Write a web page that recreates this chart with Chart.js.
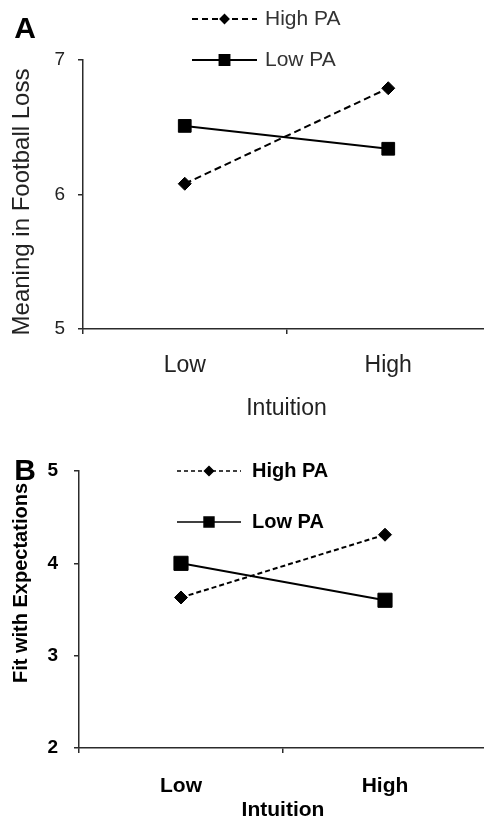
<!DOCTYPE html>
<html>
<head>
<meta charset="utf-8">
<script src="https://cdn.jsdelivr.net/npm/chart.js@4"></script>
<style>
    html, body { margin: 0; padding: 0; background: #fff; overflow: hidden; }
    body { width: 484px; height: 821px; position: relative; }
    canvas { position: absolute; left: 0; }
    #chart-a { top: 0; }
    #chart-b { top: 430px; }
</style>
</head>
<body>
<canvas id="chart-a" width="500" height="430"></canvas>
<canvas id="chart-b" width="498" height="391"></canvas>
<script>
const intuitionLevels = ['Low', 'High'];
const seriesNames = ['High PA', 'Low PA'];

// panel A: meaning in football loss
const meaningHighPA = [6.08, 6.79];
const meaningLowPA = [6.51, 6.34];
const meaningTicks = [5, 6, 7];

// panel B: fit with expectations
const fitHighPA = [3.63, 4.31];
const fitLowPA = [4.00, 3.60];
const fitTicks = [2, 3, 4, 5];

const FONT = '"Liberation Sans", Arial, sans-serif';

// panel letter, y title and the little legend drawn inside the plot
const panelDecor = {
    id: 'panelDecor',
    afterDraw(chart, args, opts) {
        const { ctx } = chart;
        ctx.save();
        ctx.fillStyle = '#000';
        ctx.font = `bold 30px ${FONT}`;
        ctx.textAlign = 'center';
        ctx.textBaseline = 'middle';
        ctx.fillText(opts.letter, opts.letterX, opts.letterY);

        // y axis title, rotated
        ctx.save();
        ctx.translate(opts.yTitleX, opts.yTitleY);
        ctx.rotate(-Math.PI / 2);
        ctx.font = opts.yTitleFont;
        ctx.fillStyle = opts.textColor;
        ctx.fillText(opts.yTitle, 0, 0);
        ctx.restore();

        chart.data.datasets.forEach((ds, i) => {
            const y = opts.legendY[i];
            ctx.strokeStyle = ds.borderColor;
            ctx.lineWidth = opts.legendLineWidth;
            ctx.setLineDash(i === 0 ? opts.legendDash : []);
            ctx.beginPath();
            ctx.moveTo(opts.lineX0, y);
            ctx.lineTo(opts.lineX1, y);
            ctx.stroke();
            ctx.setLineDash([]);
            ctx.fillStyle = ds.borderColor;
            Chart.helpers.drawPoint(ctx, { pointStyle: ds.pointStyle, radius: opts.markerRadius[i], borderWidth: 1, rotation: 0 }, (opts.lineX0 + opts.lineX1) / 2, y);
            ctx.fillStyle = opts.legendColor;
            ctx.font = opts.legendFont;
            ctx.textAlign = 'left';
            ctx.fillText(ds.label, opts.textX, y);
        });
        ctx.restore();
    },
};

function makePanel(canvas, p) {
    const axisColor = '#2b2b2b';
    return new Chart(canvas, {
        type: 'line',
        data: {
            labels: intuitionLevels,
            datasets: [{
                label: seriesNames[0],
                data: p.high,
                borderColor: '#000',
                backgroundColor: '#000',
                borderWidth: 2,
                borderDash: p.dash,
                pointStyle: 'rectRot',
                pointRadius: p.diamondR,
                pointBorderWidth: 1,
                tension: 0,
            }, {
                label: seriesNames[1],
                data: p.low,
                borderColor: '#000',
                backgroundColor: '#000',
                borderWidth: 2,
                pointStyle: 'rect',
                pointRadius: p.squareR,
                pointBorderWidth: 1,
                tension: 0,
            }],
        },
        options: {
            responsive: false,
            animation: false,
            layout: { padding: { top: p.top, left: 0, right: 0, bottom: 0 } },
            plugins: {
                legend: { display: false },
                tooltip: { enabled: false },
                panelDecor: { ...p.decor, textColor: p.textColor },
            },
            scales: {
                x: {
                    type: 'category',
                    offset: true,
                    grid: { offset: true, drawOnChartArea: false, tickLength: 5, color: axisColor, lineWidth: 1.5 },
                    border: { color: axisColor, width: 1.5 },
                    ticks: { font: p.xTickFont, color: p.textColor, padding: p.xTickPad },
                    title: { display: true, text: 'Intuition', font: p.xTitleFont, color: p.textColor, padding: p.xTitlePad },
                    afterFit: (scale) => { scale.height = p.xHeight; },
                },
                y: {
                    min: p.ticks[0],
                    max: p.ticks[p.ticks.length - 1],
                    grid: { drawOnChartArea: false, tickLength: 5, color: axisColor, lineWidth: 1.5 },
                    border: { color: axisColor, width: 1.5 },
                    afterBuildTicks: (scale) => { scale.ticks = p.ticks.map((v) => ({ value: v })); },
                    ticks: { font: p.yTickFont, color: p.textColor, padding: p.yTickPad },
                    afterFit: (scale) => { scale.width = p.yWidth; },
                },
            },
        },
        plugins: [panelDecor],
    });
}

makePanel(document.getElementById('chart-a'), {
    high: meaningHighPA,
    low: meaningLowPA,
    ticks: meaningTicks,
    dash: [7, 4],
    diamondR: 6.5,
    squareR: 9,
    top: 60,
    xHeight: 101,
    yWidth: 83,
    textColor: '#222',
    xTickFont: { family: FONT, size: 23 },
    xTickPad: 18,
    xTitleFont: { family: FONT, size: 23 },
    xTitlePad: { top: 0, bottom: 8 },
    yTickFont: { family: FONT, size: 19 },
    yTickPad: 13,
    decor: {
        letter: 'A', letterX: 25, letterY: 30,
        yTitle: 'Meaning in Football Loss', yTitleX: 22, yTitleY: 202, yTitleFont: `24px ${FONT}`,
        legendY: [19, 60], lineX0: 192, lineX1: 257, textX: 265,
        legendDash: [6, 4], legendLineWidth: 2, markerRadius: [4, 7],
        legendFont: `21px ${FONT}`, legendColor: '#333',
    },
});

makePanel(document.getElementById('chart-b'), {
    high: fitHighPA,
    low: fitLowPA,
    ticks: fitTicks,
    dash: [5, 3],
    diamondR: 6.5,
    squareR: 10,
    top: 41,
    xHeight: 73,
    yWidth: 79,
    textColor: '#000',
    xTickFont: { family: FONT, size: 21, weight: 'bold' },
    xTickPad: 21,
    xTitleFont: { family: FONT, size: 21, weight: 'bold', lineHeight: 1 },
    xTitlePad: { top: 0, bottom: 0 },
    yTickFont: { family: FONT, size: 19, weight: 'bold' },
    yTickPad: 16,
    decor: {
        letter: 'B', letterX: 25, letterY: 42,
        yTitle: 'Fit with Expectations', yTitleX: 21, yTitleY: 153, yTitleFont: `bold 20px ${FONT}`,
        legendY: [41, 92], lineX0: 177, lineX1: 241, textX: 252,
        legendDash: [4, 3], legendLineWidth: 1.5, markerRadius: [4.5, 7],
        legendFont: `bold 20px ${FONT}`, legendColor: '#000',
    },
});
</script>
</body>
</html>
